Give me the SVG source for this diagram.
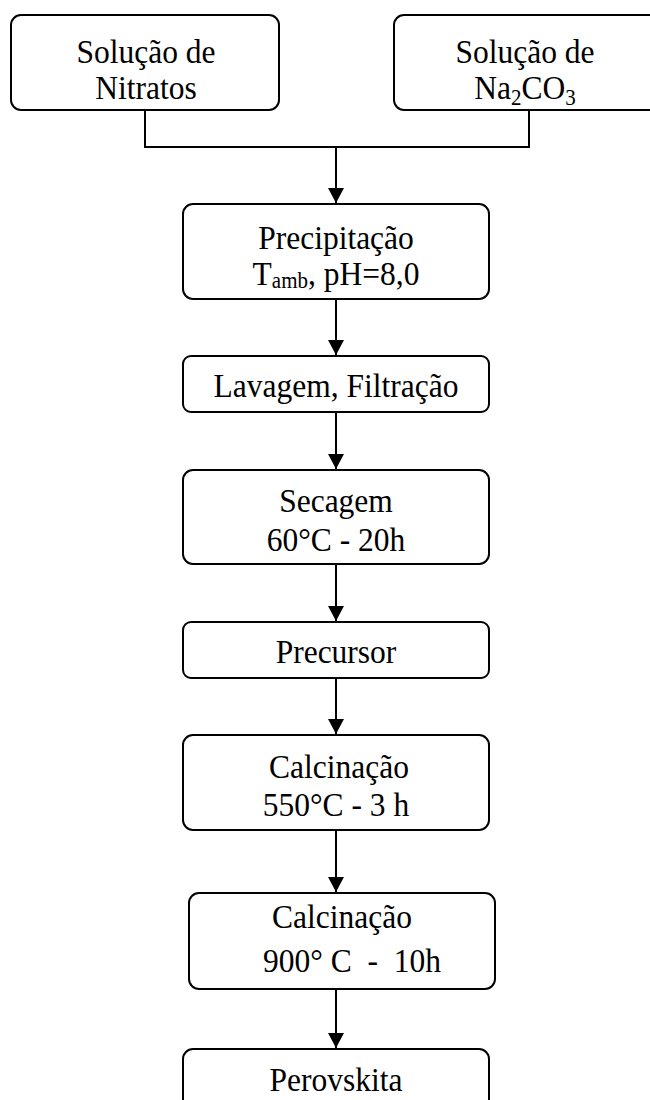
<svg xmlns="http://www.w3.org/2000/svg" width="650" height="1100" viewBox="0 0 650 1100">
<defs>
<style>
.box{fill:#fff;stroke:#000;stroke-width:2}
.t{font-family:"Liberation Serif","Times New Roman",serif;font-size:31.5px;fill:#000;text-anchor:middle}
.s{font-size:21px}
.c{fill:none;stroke:#000;stroke-width:2}
</style>
<marker id="arr" markerWidth="15" markerHeight="16" refX="15" refY="8" orient="auto" markerUnits="userSpaceOnUse" viewBox="0 0 15 16">
<path d="M0,0 L15,8 L0,16 Z" fill="#000"/>
</marker>
</defs>
<rect width="650" height="1100" fill="#fff"/>
<g id="connectors">
<polyline class="c" points="145,110 145,147 529,147 529,110"/>
<line class="c" x1="336" y1="147" x2="336" y2="203" marker-end="url(#arr)"/>
<line class="c" x1="336" y1="299" x2="336" y2="355" marker-end="url(#arr)"/>
<line class="c" x1="336" y1="412" x2="336" y2="469" marker-end="url(#arr)"/>
<line class="c" x1="336" y1="564" x2="336" y2="621" marker-end="url(#arr)"/>
<line class="c" x1="336" y1="678" x2="336" y2="734" marker-end="url(#arr)"/>
<line class="c" x1="336" y1="830" x2="336" y2="892" marker-end="url(#arr)"/>
<line class="c" x1="336" y1="989" x2="336" y2="1048" marker-end="url(#arr)"/>
</g>
<g id="n-nitratos">
<rect class="box" x="11" y="15" width="268" height="95" rx="10"/>
<text class="t" transform="translate(146,63) scale(1,1.1)">Solução de</text>
<text class="t" transform="translate(146,99) scale(1,1.1)">Nitratos</text>
</g>
<g id="n-na2co3">
<rect class="box" x="394" y="15" width="268" height="95" rx="10"/>
<text class="t" transform="translate(525,63) scale(1,1.1)">Solução de</text>
<text class="t" transform="translate(525,99) scale(1,1.1)">Na<tspan class="s" dy="5">2</tspan><tspan dy="-5">CO</tspan><tspan class="s" dy="5">3</tspan></text>
</g>
<g id="n-precipitacao">
<rect class="box" x="183" y="204" width="306" height="95" rx="10"/>
<text class="t" transform="translate(336,249) scale(1,1.1)">Precipitação</text>
<text class="t" transform="translate(336,285) scale(1,1.1)">T<tspan class="s" dy="3">amb</tspan><tspan dy="-3">, pH=8,0</tspan></text>
</g>
<g id="n-lavagem">
<rect class="box" x="183" y="356" width="306" height="56" rx="8"/>
<text class="t" transform="translate(336,397) scale(1,1.1)">Lavagem, Filtração</text>
</g>
<g id="n-secagem">
<rect class="box" x="183" y="470" width="306" height="94" rx="10"/>
<text class="t" transform="translate(336,512) scale(1,1.1)">Secagem</text>
<text class="t" transform="translate(336,551) scale(1,1.1)">60°C - 20h</text>
</g>
<g id="n-precursor">
<rect class="box" x="183" y="622" width="306" height="56" rx="8"/>
<text class="t" transform="translate(336,663) scale(1,1.1)">Precursor</text>
</g>
<g id="n-calc1">
<rect class="box" x="183" y="735" width="306" height="95" rx="10"/>
<text class="t" transform="translate(339,778) scale(1,1.1)">Calcinação</text>
<text class="t" transform="translate(336,816) scale(1,1.1)">550°C - 3 h</text>
</g>
<g id="n-calc2">
<rect class="box" x="189" y="893" width="306" height="96" rx="10"/>
<text class="t" transform="translate(342,928) scale(1,1.1)">Calcinação</text>
<text class="t" transform="translate(352,972) scale(1,1.1)" xml:space="preserve">900° C  -  10h</text>
</g>
<g id="n-perovskita">
<rect class="box" x="183" y="1049" width="306" height="70" rx="10"/>
<text class="t" transform="translate(336,1091) scale(1,1.1)">Perovskita</text>
</g>
</svg>
